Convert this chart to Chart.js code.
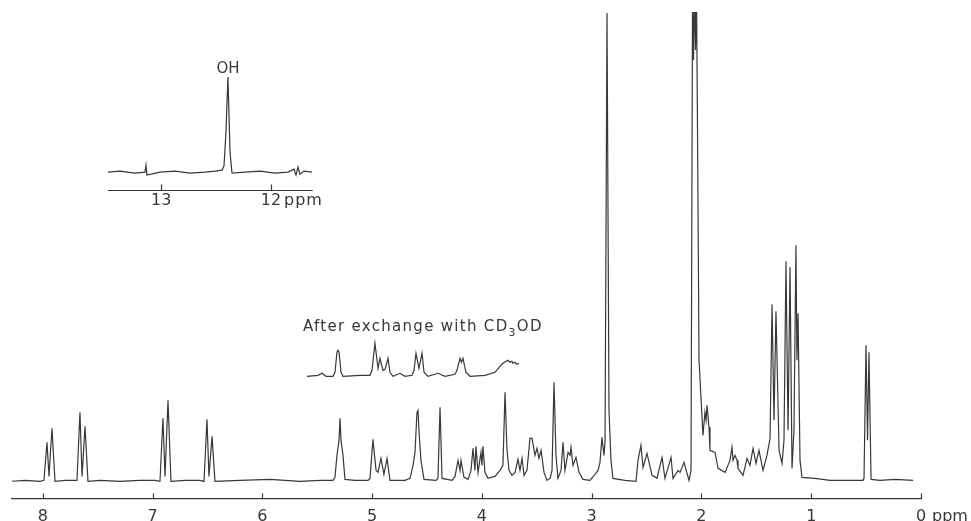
<!DOCTYPE html>
<html>
<head>
<meta charset="utf-8">
<script src="https://cdn.jsdelivr.net/npm/chart.js@4.4.1/dist/chart.umd.min.js"></script>
<style>
  body { margin: 0; background: #fff; }
  #wrap { width: 971px; height: 521px; position: relative; }
</style>
</head>
<body>
<div id="wrap"><canvas id="nmr"></canvas></div>
<script>
//Main spectrum, chemical shift (ppm) and intensity
const mainPpm = [
  8.298,8.162,8.025,
  7.989,7.961,7.943,7.916,7.888, 7.797,
  7.688,7.661,7.642,7.615,7.588,
  7.478,7.296,7.114,6.977,
  6.932,6.905,6.886,6.859,6.832, 6.704,6.568,
  6.531,6.504,6.486,6.458,6.431,
  6.203,5.930,5.657,5.474,5.356,
  5.338,5.320,5.301,5.292,5.283,5.265,5.247, 5.156,5.037,
  5.019,4.992,4.964,4.946,4.919,4.892,4.864,4.837, 4.700,4.655,
  4.627,4.609,4.591,4.582,4.573,4.555,4.527,
  4.418,4.400,4.381,4.363,
  4.272,4.245,4.217,4.199,4.190,4.163,4.126,
  4.099,4.081,4.063,4.054,4.035,4.008,3.999,3.990,3.972,3.944,
  3.880,3.835,3.808,3.789,3.771,3.753,3.726,
  3.698,3.671,3.653,3.634,3.616,3.589,
  3.562,3.543,3.516,3.498,3.480,3.461,3.434,3.407,
  3.379,3.361,3.343,3.325,3.307,
  3.279,3.261,3.243,3.215,3.197,3.188,3.170,3.143,3.115,3.079,
  3.015,2.970,2.942,2.924,2.906,2.888,2.878,
  2.860,2.842,2.824,2.806, 2.696,2.596,
  2.578,2.551,2.532,2.496,2.450,2.405,2.359,2.332,2.277,2.259,2.213,2.195,2.159,2.113,
  2.095,2.081,2.072,2.063,2.054,2.045,2.036,
  2.022,1.986,1.968,1.958,1.949,1.931,1.922,1.876,1.849,1.785,
  1.740,1.722,1.712,1.694,1.676,1.667,1.621,1.585,1.558,1.530,1.503,1.476,1.439,1.403,1.375,
  1.357,1.339,1.321,1.293,1.266,
  1.248,1.230,1.211,1.193,1.175,
  1.157,1.139,1.130,1.120,1.102,1.084,
  0.966,0.829,0.647,0.528,
  0.519,0.501,0.487,0.474,0.455,
  0.373,0.237,0.073
];
const mainInt = [
  -1,0,-1,
  0,38,4,52,-1, 0,
  0,68,4,54,-1,
  0,-1,0,0,
  -1,62,4,80,-1, 0,0,
  -1,61,4,44,-1,
  0,1,-1,0,0,
  3,25,40,62,40,25,1, 0,0,
  2,41,10,8,22,6,22,0, 0,2,
  15,28,68,70,50,20,1,
  0,2,73,2,
  0,4,20,10,20,3,1,
  10,32,10,34,8,28,15,34,8,2,
  4,10,15,88,30,10,5,
  8,21,10,22,5,10,
  42,42,25,32,22,30,8,0,
  2,10,98,25,2,
  10,38,10,28,25,33,15,23,8,1,
  0,6,10,18,43,25,40,
  467,70,20,2, 0,-1,
  20,35,13,27,5,2,23,2,23,2,10,8,18,0,
  10,490,420,490,430,490,355,
  120,45,68,60,75,53,30,28,12,8,
  20,33,20,25,20,12,5,22,15,32,17,30,10,25,42,
  176,60,169,30,17,
  40,219,50,213,12,
  50,235,120,167,20,3,
  2,0,0,0,
  2,135,40,128,1,
  0,1,0
];

//Inset: OH signal between 13.5 and 11.6 ppm
const ohPpm = [13.485,13.375,13.239,13.148,13.139,13.130,13.011,12.874,12.738,12.601,12.510,12.446,12.428,12.410,12.392,12.373,12.355,12.237,12.100,11.964,11.845,11.790,11.772,11.754,11.736,11.699,11.627];
const ohInt = [0,1,-1,0,7,-3,0,1,-1,0,1,2,6,40,95,20,-1,0,1,-1,0,3,-3,5,-2,1,0];

//Inset: after exchange with CD3OD
const exPpm = [5.593,5.493,5.456,5.420,5.356, 5.338,5.320,5.311,5.301,5.283,5.265,
  5.110,5.019,5.001,4.974,4.955,4.946,4.928,4.901,4.882,4.855,4.837,4.810,
  4.746,4.700,4.636,4.618,4.600,4.573,4.545,4.527,4.491,
  4.400,4.336,4.245,4.227,4.199,4.186,4.172,4.145,4.108,
  3.972,3.880,3.835,3.808,3.780,3.762,3.744,3.726,3.717,3.698,3.680,3.662];
const exInt = [0,1,3,0,0, 4,24,26,24,4,0,
  1,1,6,33,16,8,18,6,7,18,4,0,
  3,0,1,6,23,8,23,4,0,
  3,0,2,6,18,14,18,4,0,
  1,4,10,13,15,16,14,15,13,14,12,13];

//Axis ticks
const mainTicks = [8,7,6,5,4,3,2,1,0];
const ohTicks = [13,12];
const ohRange = [13.485, 11.62];

const ink = '#383838';
Chart.defaults.font.family = "'DejaVu Sans', sans-serif";
Chart.defaults.color = ink;

const toPoints = (xs, ys) => xs.map((v, i) => ({x: v, y: ys[i]}));

//Draws the upward tick stubs, the inset axis and the free text
const annotate = {
  id: 'annotate',
  afterDraw(chart) {
    const ctx = chart.ctx;
    const sx = chart.scales.x, so = chart.scales.xOH;
    const yo = chart.scales.yOH, ye = chart.scales.yEx;
    const bottom = chart.chartArea.bottom;
    ctx.save();
    ctx.strokeStyle = ink;
    ctx.fillStyle = ink;
    ctx.lineWidth = 1.2;

    //main tick stubs
    ctx.beginPath();
    mainTicks.forEach(v => {
      const px = Math.round(sx.getPixelForValue(v)) + 0.5;
      ctx.moveTo(px, bottom);
      ctx.lineTo(px, bottom - 5);
    });
    ctx.stroke();

    ctx.font = "16px 'DejaVu Sans'";
    ctx.textBaseline = 'middle';
    ctx.textAlign = 'left';
    ctx.fillText('ppm', sx.getPixelForValue(0) + 11, bottom + 14 + 4.8);

    //OH inset axis
    const ay = Math.round(yo.getPixelForValue(-18)) + 0.5;
    ctx.beginPath();
    ctx.moveTo(so.getPixelForValue(ohRange[0]), ay);
    ctx.lineTo(so.getPixelForValue(ohRange[1]), ay);
    ohTicks.forEach(v => {
      const px = Math.round(so.getPixelForValue(v)) + 0.5;
      ctx.moveTo(px, ay);
      ctx.lineTo(px, ay - 6);
    });
    ctx.stroke();

    ctx.textBaseline = 'alphabetic';
    ctx.textAlign = 'center';
    ctx.fillText('13', so.getPixelForValue(13), ay + 14);
    ctx.fillText('12', so.getPixelForValue(12), ay + 14);
    ctx.textAlign = 'left';
    ctx.letterSpacing = '1px';
    ctx.fillText('ppm', so.getPixelForValue(12) + 13, ay + 14);

    ctx.font = "15px 'DejaVu Sans'";
    ctx.letterSpacing = '0px';
    ctx.textAlign = 'center';
    ctx.fillText('OH', so.getPixelForValue(12.392), yo.getPixelForValue(99));

    //exchange label with subscript, spaced out like the typewriter original
    ctx.textAlign = 'left';
    ctx.letterSpacing = '1.3px';
    let tx = sx.getPixelForValue(5.63);
    const ty = ye.getPixelForValue(45);
    const part1 = 'After exchange with CD';
    ctx.fillText(part1, tx, ty);
    tx += ctx.measureText(part1).width;
    ctx.font = "11px 'DejaVu Sans'";
    ctx.fillText('3', tx, ty + 5);
    tx += ctx.measureText('3').width;
    ctx.font = "15px 'DejaVu Sans'";
    ctx.fillText('OD', tx, ty);
    ctx.restore();
  }
};

const lineStyle = {
  borderColor: ink,
  borderWidth: 1.2,
  pointRadius: 0,
  tension: 0,
  fill: false
};

const config = {
  type: 'line',
  data: {
    datasets: [
      Object.assign({label: 'spectrum', data: toPoints(mainPpm, mainInt), xAxisID: 'x', yAxisID: 'y'}, lineStyle),
      Object.assign({label: 'OH', data: toPoints(ohPpm, ohInt), xAxisID: 'xOH', yAxisID: 'yOH'}, lineStyle),
      Object.assign({label: 'exchange', data: toPoints(exPpm, exInt), xAxisID: 'x', yAxisID: 'yEx'}, lineStyle)
    ]
  },
  options: {
    responsive: true,
    maintainAspectRatio: false,
    animation: false,
    //the tick labels sit partly below the page edge, as in the scan
    layout: { padding: { left: 12, right: 50, top: 12, bottom: -15 } },
    plugins: { legend: { display: false }, tooltip: { enabled: false } },
    scales: {
      x: {
        type: 'linear',
        reverse: true,
        min: 0,
        max: 8.28,
        grid: { display: false, drawTicks: false },
        border: { display: true, color: ink, width: 1.3 },
        afterBuildTicks: s => { s.ticks = mainTicks.map(v => ({value: v})); },
        ticks: {
          padding: 14,
          maxRotation: 0,
          autoSkip: false,
          color: ink,
          font: { size: 16, lineHeight: 0.6 }
        }
      },
      xOH: {
        type: 'linear',
        display: false,
        reverse: true,
        min: 6.079,
        max: 14.359
      },
      y: { display: false, min: -18, max: 468 },
      yOH: { display: false, min: -326, max: 160 },
      yEx: { display: false, min: -122, max: 364 }
    }
  },
  plugins: [annotate]
};

const myChart = new Chart(document.getElementById('nmr').getContext('2d'), config);
</script>
</body>
</html>
